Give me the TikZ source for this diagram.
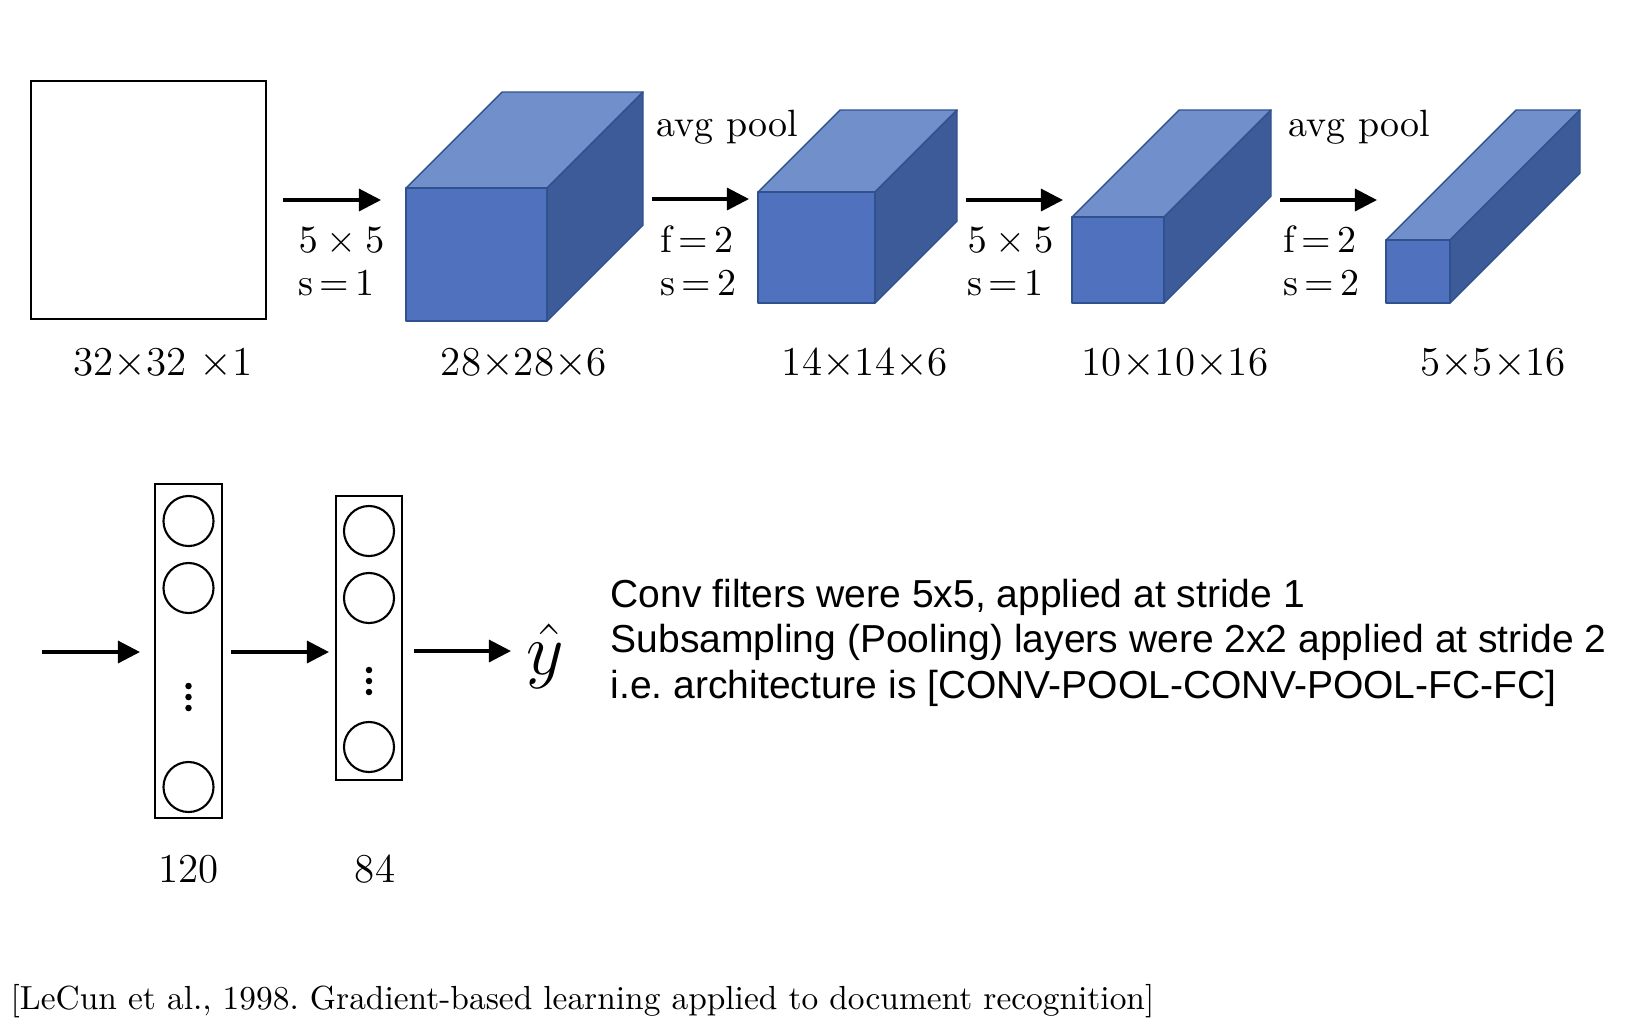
\documentclass[tikz,border=0pt]{standalone}
\usepackage{fontspec}
\newfontfamily\notesfont{Liberation Sans}
\usetikzlibrary{arrows.meta}
\definecolor{cfront}{HTML}{4F71BE}
\definecolor{ctop}{HTML}{7190CB}
\definecolor{cside}{HTML}{3E5B99}
\definecolor{cedge}{HTML}{2F528F}
\frenchspacing
\begin{document}
\begin{tikzpicture}[x=0.01cm,y=-0.01cm,
  arr/.style={line width=0.9pt,-{Triangle[length=0.22cm,width=0.22cm]}},
  dimlabel/.style={anchor=base,inner sep=0pt,font=\fontsize{11.66pt}{14pt}\selectfont},
  oplabel/.style={anchor=base west,inner sep=0pt,font=\fontsize{10.8pt}{13pt}\selectfont},
  layerbox/.style={draw,line width=0.7pt},
  neuron/.style={draw,circle,line width=0.6pt,minimum size=0.5cm,inner sep=0pt},
  ddot/.style={fill,circle,minimum size=0.065cm,inner sep=0pt},
  note/.style={anchor=base west,inner sep=0pt,font=\notesfont\fontsize{11.1pt}{13pt}\selectfont},
  faceedge/.style={draw=cedge,line width=0.4pt,line join=round}]
\useasboundingbox (0,0) rectangle (1626,1020);

% input
\node[layerbox,line width=0.8pt,minimum width=2.35cm,minimum height=2.38cm,inner sep=0pt] (in) at (148.5,200) {};
\node[dimlabel] (lin) at (163,375) {32$\times$32 $\times$1};

% cubes
\foreach \n/\xa/\ya/\xb/\yb/\d in {c1/406/188/547/321/96, c2/758/192/875/303/82, c3/1072/217/1164/303/107, c4/1386/240/1450/303/130}{
  \fill[ctop,faceedge] (\xa,\ya) -- (\xa+\d,\ya-\d) -- (\xb+\d,\ya-\d) -- (\xb,\ya) -- cycle;
  \fill[cside,faceedge] (\xb,\ya) -- (\xb+\d,\ya-\d) -- (\xb+\d,\yb-\d) -- (\xb,\yb) -- cycle;
  \fill[cfront,faceedge] (\xa,\ya) rectangle (\xb,\yb);
  \coordinate (\n) at (\xa,{(\ya+\yb)/2});
}
\node[dimlabel] (l1) at (524,375) {28$\times$28$\times$6};
\node[dimlabel] (l2) at (865,375) {14$\times$14$\times$6};
\node[dimlabel] (l3) at (1175,375) {10$\times$10$\times$16};
\node[dimlabel] (l4) at (1493,375) {5$\times$5$\times$16};

% arrows top
\coordinate (a1s) at (283,200); \coordinate (a1e) at (381,200);
\coordinate (a2s) at (652,199); \coordinate (a2e) at (749,199);
\coordinate (a3s) at (966,200); \coordinate (a3e) at (1063,200);
\coordinate (a4s) at (1280,200); \coordinate (a4e) at (1377,200);
\draw[arr] (a1s) -- (a1e);
\draw[arr] (a2s) -- (a2e);
\draw[arr] (a3s) -- (a3e);
\draw[arr] (a4s) -- (a4e);

\node[oplabel] (o1a) at (298,252) {$5\times5$};
\node[oplabel] (o1b) at (298,295) {s\,=\,1};
\node[oplabel] (p1) at (656,136) {avg pool};
\node[oplabel] (o2a) at (660,252) {f\,=\,2};
\node[oplabel] (o2b) at (660,295) {s\,=\,2};
\node[oplabel] (o3a) at (967,252) {$5\times5$};
\node[oplabel] (o3b) at (967,295) {s\,=\,1};
\node[oplabel] (p2) at (1288,136) {avg pool};
\node[oplabel] (o4a) at (1283,252) {f\,=\,2};
\node[oplabel] (o4b) at (1283,295) {s\,=\,2};

% bottom: fully connected
\node[layerbox,minimum width=0.67cm,minimum height=3.34cm,inner sep=0pt] (fc1) at (188.5,651) {};
\node[neuron] (n11) at (188.5,521) {};
\node[neuron] (n12) at (188.5,588) {};
\node[neuron] (n13) at (188.5,787) {};
\node[ddot] at (188.5,686) {};
\node[ddot] at (188.5,697) {};
\node[ddot] at (188.5,708) {};
\node[layerbox,minimum width=0.66cm,minimum height=2.84cm,inner sep=0pt] (fc2) at (369,638) {};
\node[neuron] (n21) at (369,531) {};
\node[neuron] (n22) at (369,598) {};
\node[neuron] (n23) at (369,747) {};
\node[ddot] at (369,670) {};
\node[ddot] at (369,681) {};
\node[ddot] at (369,692) {};
\node[anchor=base,inner sep=0pt,font=\fontsize{21pt}{24pt}\selectfont] (yhat) at (545,674) {$\hat{y}$};

\coordinate (b0s) at (42,652);  \coordinate (b0e) at (140,652);
\coordinate (b1s) at (231,652); \coordinate (b1e) at (329,652);
\coordinate (b2s) at (414,651); \coordinate (b2e) at (511,651);
\draw[arr] (b0s) -- (b0e);
\draw[arr] (b1s) -- (b1e);
\draw[arr] (b2s) -- (b2e);

\node[dimlabel] (l120) at (188.5,882) {120};
\node[dimlabel] (l84) at (375,882) {84};

% notes
\node[note] (t1) at (610,607) {Conv filters were 5x5, applied at stride 1};
\node[note] (t2) at (610,652) {Subsampling (Pooling) layers were 2x2 applied at stride 2};
\node[note] (t3) at (610,698) {i.e. architecture is [CONV-POOL-CONV-POOL-FC-FC]};

% citation
\node[anchor=base west,inner sep=0pt,font=\fontsize{9.5pt}{12pt}\selectfont] (cite) at (10,1009) {[LeCun et al., 1998. Gradient-based learning applied to document recognition]};
\end{tikzpicture}
\end{document}
